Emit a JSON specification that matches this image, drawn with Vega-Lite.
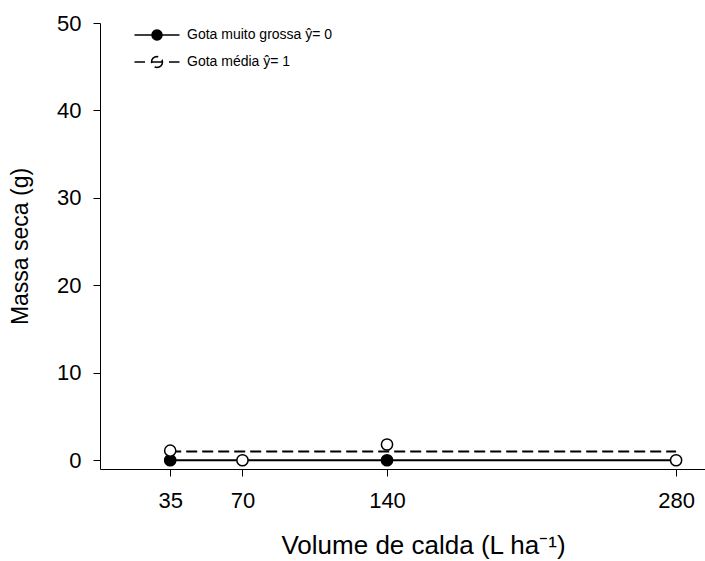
{
  "$schema": "https://vega.github.io/schema/vega-lite/v6.json",
  "width": 605,
  "height": 446,
  "autosize": {"type": "none"},
  "padding": {"left": 100, "top": 23, "right": 0, "bottom": 92},
  "background": "white",
  "config": {
    "view": {"stroke": null}
  },
  "datasets": {
    "obs": [
      {"serie": "Gota muito grossa ŷ= 0", "volume": 35, "massa": 0},
      {"serie": "Gota muito grossa ŷ= 0", "volume": 140, "massa": 0},
      {"serie": "Gota média ŷ= 1", "volume": 35, "massa": 1.1},
      {"serie": "Gota média ŷ= 1", "volume": 70, "massa": 0},
      {"serie": "Gota média ŷ= 1", "volume": 140, "massa": 1.8},
      {"serie": "Gota média ŷ= 1", "volume": 280, "massa": 0}
    ],
    "fit": [
      {"serie": "Gota muito grossa ŷ= 0", "volume": 35, "massa": 0},
      {"serie": "Gota muito grossa ŷ= 0", "volume": 280, "massa": 0},
      {"serie": "Gota média ŷ= 1", "volume": 35, "massa": 1},
      {"serie": "Gota média ŷ= 1", "volume": 280, "massa": 1}
    ]
  },
  "encoding": {
    "x": {
      "field": "volume",
      "type": "quantitative",
      "scale": {"domain": [1, 294], "nice": false, "zero": false},
      "axis": {
        "values": [35, 70, 140, 280],
        "grid": false,
        "domainColor": "#000000",
        "tickColor": "#000000",
        "tickSize": 7,
        "labelFont": "Liberation Sans",
        "labelFontSize": 22,
        "labelColor": "#000000",
        "labelPadding": 14,
        "title": "Volume de calda (L ha⁻¹)",
        "titleFont": "Liberation Sans",
        "titleFontWeight": "normal",
        "titleColor": "#000000",
        "titleFontSize": 26,
        "titleX": 323,
        "titleY": 76,
        "titleAlign": "center",
        "titleBaseline": "middle"
      }
    },
    "y": {
      "field": "massa",
      "type": "quantitative",
      "scale": {"domain": [-1, 50], "nice": false, "zero": false},
      "axis": {
        "values": [0, 10, 20, 30, 40, 50],
        "grid": false,
        "domainColor": "#000000",
        "tickColor": "#000000",
        "tickSize": 7,
        "labelFont": "Liberation Sans",
        "labelFontSize": 22,
        "labelColor": "#000000",
        "labelPadding": 12,
        "title": "Massa seca (g)",
        "titleFont": "Liberation Sans",
        "titleFontWeight": "normal",
        "titleColor": "#000000",
        "titleFontSize": 23,
        "titleX": -80,
        "titleY": 223,
        "titleAngle": -90,
        "titleAlign": "center",
        "titleBaseline": "middle"
      }
    }
  },
  "layer": [
    {
      "data": {"name": "fit"},
      "mark": {"type": "line", "color": "#000000", "strokeWidth": 2},
      "encoding": {
        "strokeDash": {
          "field": "serie",
          "type": "nominal",
          "scale": {"domain": ["Gota muito grossa ŷ= 0", "Gota média ŷ= 1"], "range": [[1, 0], [11, 5]]},
          "legend": {
            "title": null,
            "orient": "none",
            "legendX": 50,
            "legendY": 5,
            "padding": 0,
            "symbolSize": 100,
            "symbolStrokeColor": "#000000",
            "symbolStrokeWidth": 1.5,
            "labelFont": "Liberation Sans",
            "labelFontSize": 14,
            "labelColor": "#000000",
            "labelOffset": 23,
            "rowPadding": 10,
            "encode": {
              "symbols": {
                "update": {
                  "shape": {"signal": "datum.value === 'Gota média ŷ= 1' ? 'M1.1,0L1.016,0.421L0.778,0.778L0.421,1.016L0,1.1L-0.421,1.016L-0.778,0.778L-1.016,0.421L-1.1,0L-1.016,-0.421L-0.778,-0.778L-0.421,-1.016L0,-1.1L0.421,-1.016L0.778,-0.778L1.016,-0.421ZM-4.5,0L-2.4,0M2.4,0L4.5,0M-1.1,0L1.1,0' : 'M1,0L0.924,0.383L0.707,0.707L0.383,0.924L0,1L-0.383,0.924L-0.707,0.707L-0.924,0.383L-1,0L-0.924,-0.383L-0.707,-0.707L-0.383,-0.924L0,-1L0.383,-0.924L0.707,-0.707L0.924,-0.383ZM-4.5,0L4.5,0'"},
                  "stroke": {"value": "#000000"},
                  "strokeWidth": {"value": 1.5},
                  "strokeDash": {"value": [1, 0]},
                  "opacity": {"value": 1}
                }
              }
            }
          }
        }
      }
    },
    {
      "data": {"name": "obs"},
      "mark": {"type": "point", "shape": "circle", "filled": true, "size": 125, "stroke": "#000000", "strokeWidth": 1.5, "opacity": 1},
      "encoding": {
        "fill": {
          "field": "serie",
          "type": "nominal",
          "scale": {"domain": ["Gota muito grossa ŷ= 0", "Gota média ŷ= 1"], "range": ["#000000", "#ffffff"]},
          "legend": {
            "title": null,
            "orient": "none",
            "legendX": 50,
            "legendY": 5,
            "padding": 0,
            "symbolSize": 100,
            "symbolStrokeColor": "#000000",
            "symbolStrokeWidth": 1.5,
            "labelFont": "Liberation Sans",
            "labelFontSize": 14,
            "labelColor": "#000000",
            "labelOffset": 23,
            "rowPadding": 10,
            "encode": {
              "symbols": {
                "update": {
                  "shape": {"signal": "datum.value === 'Gota média ŷ= 1' ? 'M1.1,0L1.016,0.421L0.778,0.778L0.421,1.016L0,1.1L-0.421,1.016L-0.778,0.778L-1.016,0.421L-1.1,0L-1.016,-0.421L-0.778,-0.778L-0.421,-1.016L0,-1.1L0.421,-1.016L0.778,-0.778L1.016,-0.421ZM-4.5,0L-2.4,0M2.4,0L4.5,0M-1.1,0L1.1,0' : 'M1,0L0.924,0.383L0.707,0.707L0.383,0.924L0,1L-0.383,0.924L-0.707,0.707L-0.924,0.383L-1,0L-0.924,-0.383L-0.707,-0.707L-0.383,-0.924L0,-1L0.383,-0.924L0.707,-0.707L0.924,-0.383ZM-4.5,0L4.5,0'"},
                  "stroke": {"value": "#000000"},
                  "strokeWidth": {"value": 1.5},
                  "strokeDash": {"value": [1, 0]},
                  "opacity": {"value": 1}
                }
              }
            }
          }
        }
      }
    }
  ]
}
